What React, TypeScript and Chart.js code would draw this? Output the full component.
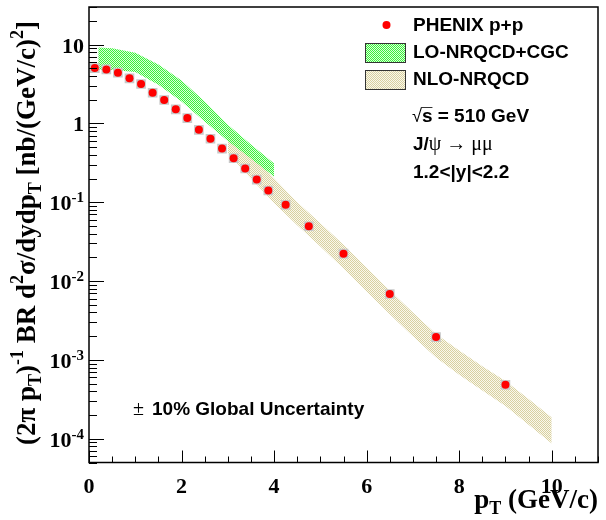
import React, { useEffect, useRef } from 'react';
import { Chart, registerables } from 'chart.js';
Chart.register(...registerables);

// ---- data ----
const PHENIX_PT = [0.125, 0.375, 0.625, 0.875, 1.125, 1.375, 1.625, 1.875, 2.125, 2.375, 2.625, 2.875, 3.125, 3.375, 3.625, 3.875, 4.25, 4.75, 5.5, 6.5, 7.5, 9.0];
const PHENIX_XSEC = [5.04, 4.85, 4.41, 3.73, 3.16, 2.45, 1.98, 1.51, 1.17, 0.83, 0.64, 0.48, 0.362, 0.268, 0.194, 0.141, 0.0927, 0.0496, 0.0223, 0.00685, 0.00195, 0.000483];

const CGC_PT = [0.2, 0.5, 1.0, 1.5, 2.0, 2.5, 3.0, 3.5, 4.0];
const CGC_HI = [9.2, 9.0, 7.9, 5.6, 3.5, 1.9, 0.96, 0.54, 0.31];
const CGC_LO = [4.8, 4.75, 4.5, 3.1, 1.9, 1.06, 0.6, 0.36, 0.21];

const NLO_PT = [3.0, 3.5, 4.0, 4.5, 5.0, 5.5, 6.0, 6.5, 7.0, 7.5, 8.0, 8.5, 9.0, 9.5, 10.0];
const NLO_HI = [0.92, 0.42, 0.2, 0.1, 0.054, 0.029, 0.0148, 0.0076, 0.004, 0.00214, 0.00132, 0.00083, 0.00054, 0.00032, 0.000186];
const NLO_LO = [0.42, 0.2, 0.098, 0.051, 0.0275, 0.0145, 0.0074, 0.0038, 0.002, 0.00107, 0.00065, 0.00041, 0.00026, 0.000151, 0.000087];

const X_TICKS = [0, 2, 4, 6, 8, 10];
const X_TICK_LABELS = ['0', '2', '4', '6', '8', '10'];
const Y_TICKS = [10, 1, 0.1, 0.01, 0.001, 0.0001];
const Y_TICK_BASE = ['10', '1', '10', '10', '10', '10'];
const Y_TICK_EXP = ['', '', '-1', '-2', '-3', '-4'];

const LEGEND_LABELS = ['PHENIX p+p', 'LO-NRQCD+CGC', 'NLO-NRQCD'];

const SERIF = '"Liberation Serif", "DejaVu Serif", serif';
const SANS = '"Liberation Sans", Arial, sans-serif';

type Seg = { t: string; f: string; dy?: number };

function rich(ctx: CanvasRenderingContext2D, segs: Seg[], x: number, y: number, align: string) {
  let w = 0;
  for (const s of segs) { ctx.font = s.f; w += ctx.measureText(s.t).width; }
  let cx = align === 'left' ? x : align === 'right' ? x - w : x - w / 2;
  ctx.textAlign = 'left';
  ctx.textBaseline = 'alphabetic';
  for (const s of segs) {
    ctx.font = s.f;
    ctx.fillText(s.t, cx, y + (s.dy || 0));
    cx += ctx.measureText(s.t).width;
  }
}

function makePattern(ctx: CanvasRenderingContext2D, dark: string, light: string) {
  const p = document.createElement('canvas');
  p.width = 4; p.height = 4;
  const g = p.getContext('2d')!;
  g.fillStyle = light; g.fillRect(0, 0, 4, 4);
  g.fillStyle = dark;
  for (let i = 0; i < 4; i++) for (let j = 0; j < 4; j++) if ((i + j) % 2 === 0) g.fillRect(i, j, 1, 1);
  return ctx.createPattern(p, 'repeat')!;
}

const rootPlugin = (greenPat: CanvasPattern, yellowPat: CanvasPattern) => ({
  id: 'rootStyle',
  afterDraw(chart: any) {
    const { ctx, chartArea: a, scales } = chart;
    const xs = scales.x, ys = scales.y;
    ctx.save();
    ctx.fillStyle = '#000';
    ctx.strokeStyle = '#000';

    // ticks
    ctx.lineWidth = 1;
    ctx.beginPath();
    for (let v = 0; v <= xs.max + 1e-9; v += 0.5) {
      const px = Math.round(xs.getPixelForValue(v)) + 0.5;
      const major = X_TICKS.includes(v);
      ctx.moveTo(px, a.bottom);
      ctx.lineTo(px, a.bottom - (major ? 12 : 6));
    }
    for (let e = -5; e <= 1; e++) {
      for (let k = 1; k <= 9; k++) {
        const v = k * Math.pow(10, e);
        if (v < ys.min * 0.999 || v > ys.max * 1.001) continue;
        const py = Math.round(ys.getPixelForValue(v)) + 0.5;
        ctx.moveTo(a.left, py);
        ctx.lineTo(a.left + (k === 1 ? 15 : 8), py);
      }
    }
    ctx.stroke();

    // frame
    ctx.lineWidth = 1.5;
    ctx.strokeRect(a.left, a.top, a.right - a.left, a.bottom - a.top);

    // tick labels
    const TF = `bold 22px ${SERIF}`;
    const TS = `bold 15px ${SERIF}`;
    X_TICKS.forEach((v, i) => {
      rich(ctx, [{ t: X_TICK_LABELS[i], f: TF }], xs.getPixelForValue(v), a.bottom + 30, 'center');
    });
    Y_TICKS.forEach((v, i) => {
      const segs: Seg[] = [{ t: Y_TICK_BASE[i], f: TF }];
      if (Y_TICK_EXP[i]) segs.push({ t: Y_TICK_EXP[i], f: TS, dy: -8 });
      rich(ctx, segs, a.left - 5, ys.getPixelForValue(v) + 8, 'right');
    });

    // axis titles
    const F = `bold 27px ${SERIF}`;
    const S = `bold 18px ${SERIF}`;
    rich(ctx, [{ t: 'p', f: F }, { t: 'T', f: S, dy: 6 }, { t: ' (GeV/c)', f: F }], a.right, 508, 'right');
    ctx.save();
    ctx.translate(35, 233);
    ctx.rotate(-Math.PI / 2);
    rich(ctx, [
      { t: '(2π p', f: F }, { t: 'T', f: S, dy: 6 }, { t: ')', f: F }, { t: '-1', f: S, dy: -12 },
      { t: ' BR d', f: F }, { t: '2', f: S, dy: -12 }, { t: 'σ/dydp', f: F }, { t: 'T', f: S, dy: 6 },
      { t: ' [nb/(GeV/c)', f: F }, { t: '2', f: S, dy: -12 }, { t: ']', f: F },
    ], 0, 0, 'center');
    ctx.restore();

    // legend
    const LF = `bold 19px ${SANS}`;
    ctx.fillStyle = '#ff0000';
    ctx.beginPath(); ctx.arc(386.5, 25, 4, 0, Math.PI * 2); ctx.fill();
    ctx.lineWidth = 1;
    ctx.strokeStyle = '#333';
    ctx.fillStyle = greenPat; ctx.fillRect(365, 43, 40, 19); ctx.strokeRect(365.5, 43.5, 40, 19);
    ctx.fillStyle = yellowPat; ctx.fillRect(365, 70, 40, 19); ctx.strokeRect(365.5, 70.5, 40, 19);
    ctx.fillStyle = '#000';
    rich(ctx, [{ t: LEGEND_LABELS[0], f: LF }], 413, 31, 'left');
    rich(ctx, [{ t: LEGEND_LABELS[1], f: LF }], 413, 58, 'left');
    rich(ctx, [{ t: LEGEND_LABELS[2], f: LF }], 413, 85, 'left');

    // sqrt(s)
    ctx.font = `18px ${SANS}`;
    ctx.fillText('√', 412, 122);
    const wr = ctx.measureText('√').width;
    ctx.font = LF;
    const ws = ctx.measureText('s').width;
    ctx.lineWidth = 1;
    ctx.beginPath(); ctx.moveTo(412 + wr - 1, 107.5); ctx.lineTo(412 + wr + ws, 107.5); ctx.stroke();
    rich(ctx, [{ t: 's = 510 GeV', f: LF }], 412 + wr, 122, 'left');
    rich(ctx, [{ t: 'J/', f: LF }, { t: 'ψ → μμ', f: `20px ${SERIF}` }], 413, 150, 'left');
    rich(ctx, [{ t: '1.2<|y|<2.2', f: LF }], 413, 178, 'left');

    // global uncertainty
    rich(ctx, [{ t: '±', f: `20px ${SERIF}` }], 133, 415, 'left');
    rich(ctx, [{ t: '10% Global Uncertainty', f: LF }], 152, 415, 'left');
    ctx.restore();
  },
});

export default function App() {
  const ref = useRef<HTMLCanvasElement>(null);
  useEffect(() => {
    const canvas = ref.current!;
    const ctx = canvas.getContext('2d')!;
    const greenPat = makePattern(ctx, '#3cf03c', 'rgba(170,255,170,0.45)');
    const yellowPat = makePattern(ctx, '#d8d0a0', '#faf8ec');
    const pts = (xs: number[], ys: number[]) => xs.map((x, i) => ({ x, y: ys[i] }));
    const band = { showLine: true, pointRadius: 0, borderWidth: 0, borderColor: 'rgba(0,0,0,0)', tension: 0 };
    const chart = new Chart(ctx, {
      type: 'line',
      data: {
        datasets: [
          { ...band, label: 'NLO hi', data: pts(NLO_PT, NLO_HI), fill: false, order: 5 },
          { ...band, label: 'NLO lo', data: pts(NLO_PT, NLO_LO), fill: '-1', backgroundColor: yellowPat, order: 4 },
          { ...band, label: 'CGC hi', data: pts(CGC_PT, CGC_HI), fill: false, order: 3 },
          { ...band, label: 'CGC lo', data: pts(CGC_PT, CGC_LO), fill: '-1', backgroundColor: greenPat, order: 2 },
          { label: 'sys', data: pts(PHENIX_PT, PHENIX_XSEC), showLine: false, pointStyle: 'rect', pointRadius: 6.8, backgroundColor: '#c8c8c8', borderWidth: 0, order: 1 },
          { label: 'PHENIX p+p', data: pts(PHENIX_PT, PHENIX_XSEC), showLine: false, pointStyle: 'circle', pointRadius: 4, backgroundColor: '#ff0000', borderWidth: 0, order: 0 },
        ],
      } as any,
      options: {
        animation: false,
        responsive: false,
        devicePixelRatio: 1,
        layout: { padding: { left: 89, right: 8, top: 7, bottom: 57.5 } },
        plugins: { legend: { display: false }, tooltip: { enabled: false } },
        scales: {
          x: { type: 'linear', min: 0, max: 11, display: false },
          y: { type: 'logarithmic', min: 5e-5, max: 30, display: false },
        },
      } as any,
      plugins: [rootPlugin(greenPat, yellowPat)],
    });
    return () => chart.destroy();
  }, []);
  return (
    <div style={{ position: 'fixed', left: 0, top: 0, width: 606, height: 520, background: '#fff' }}>
      <canvas ref={ref} width={606} height={520} style={{ display: 'block', width: 606, height: 520 }} />
    </div>
  );
}
